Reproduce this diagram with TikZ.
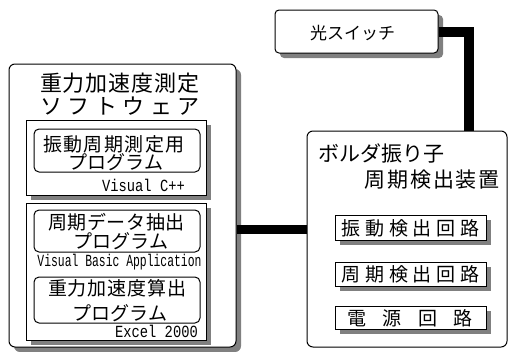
\documentclass[tikz,border=0pt]{standalone}
\usepackage{fontspec}
\newfontfamily\jp{Noto Sans CJK JP}
\newfontfamily\lmono{Liberation Mono}
\usetikzlibrary{shadows}
\newcommand\sprd[2]{\makebox[#1][s]{\sprdaux#2\relax}}
\def\sprdaux#1{#1\sprdnext}
\def\sprdnext#1{\ifx#1\relax\else\hfill#1\expandafter\sprdnext\fi}
\tikzset{
  frame/.style={draw=black, line width=1pt, fill=white},
  rframe/.style={frame, rounded corners=6pt},
  shad/.style={drop shadow={shadow xshift=5pt, shadow yshift=-5pt, fill=black!50, opacity=1}},
  jt/.style={inner sep=0pt, font=\jp\fontsize{#1pt}{#1pt}\selectfont},
  lt/.style={inner sep=0pt, font=\lmono\fontsize{17pt}{17pt}\selectfont},
  conn/.style={line width=#1, black},
  conn/.default=10pt,
}
\begin{document}
\begin{tikzpicture}[x=1pt,y=-1pt]
\useasboundingbox (0,0) rectangle (510,351);
% left main box
\node[rframe, shad, minimum width=227pt, minimum height=283pt] (lb) at (122.5,205.5) {};
\node[jt=22] (lt1) at (120,83) {\sprd{160pt}{重力加速度測定}};
\node[jt=22] (lt2) at (120,106) {\sprd{160pt}{ソフトウェア}};
% inner box 1
\node[frame, shad, minimum width=180pt, minimum height=75pt] (ib1) at (116,157.5) {};
\node[rframe, rounded corners=5pt, minimum width=166pt, minimum height=43pt] (p1) at (117,150.5) {};
\node[jt=19] (p1a) at (114,144) {\sprd{142pt}{振動周期測定用}};
\node[jt=19] (p1b) at (115.5,162.5) {\sprd{95pt}{プログラム}};
\node[lt, anchor=east] (vc) at (185,185) {\scalebox{0.81}[1]{Visual C++}};
% inner box 2
\node[frame, shad, minimum width=180pt, minimum height=137pt] (ib2) at (116,271.5) {};
\node[rframe, rounded corners=5pt, minimum width=166pt, minimum height=42pt] (p2) at (117,231) {};
\node[jt=19] (p2a) at (116.5,222) {\sprd{137pt}{周期データ抽出}};
\node[jt=19] (p2b) at (118,241) {\sprd{90pt}{プログラム}};
\node[lt] (vba) at (119.5,262) {\scalebox{0.67}[1]{Visual Basic Application}};
\node[rframe, rounded corners=5pt, minimum width=166pt, minimum height=46pt] (p3) at (117,300) {};
\node[jt=19] (p3a) at (117.5,288) {\sprd{139pt}{重力加速度算出}};
\node[jt=19] (p3b) at (118.5,313) {\sprd{93pt}{プログラム}};
\node[lt, anchor=east] (ex) at (198,331) {\scalebox{0.81}[1]{Excel 2000}};
% switch
\node[rframe, rounded corners=4pt, shad, minimum width=163pt, minimum height=43pt] (sw) at (356.5,31.5) {};
\node[jt=17] (swt) at (351,33) {\sprd{82pt}{光スイッチ}};
% right box
\node[rframe, minimum width=200pt, minimum height=216pt] (rb) at (407,239) {};
\node[jt=21, anchor=west] (rt1) at (318,153) {ボルダ振り子};
\node[jt=21, anchor=east] (rt2) at (500,180) {\sprd{135pt}{周期検出装置}};
\node[frame, shad, minimum width=151pt, minimum height=25pt] (c1) at (410.5,227.5) {};
\node[jt=19] (c1t) at (410.5,228) {\sprd{138pt}{振動検出回路}};
\node[frame, shad, minimum width=151pt, minimum height=24pt] (c2) at (410.5,274) {};
\node[jt=19] (c2t) at (410.5,274.5) {\sprd{138pt}{周期検出回路}};
\node[frame, shad, minimum width=151pt, minimum height=23pt] (c3) at (410.5,317.5) {};
\node[jt=19] (c3t) at (410,318) {\sprd{126pt}{電源回路}};
% connectors
\draw[conn] (sw.east) -| ([xshift=61.5pt]rb.north);
\draw[conn=9pt] ([yshift=-23.5pt]lb.east) coordinate (ca) -- (ca -| rb.west);
\end{tikzpicture}
\end{document}
